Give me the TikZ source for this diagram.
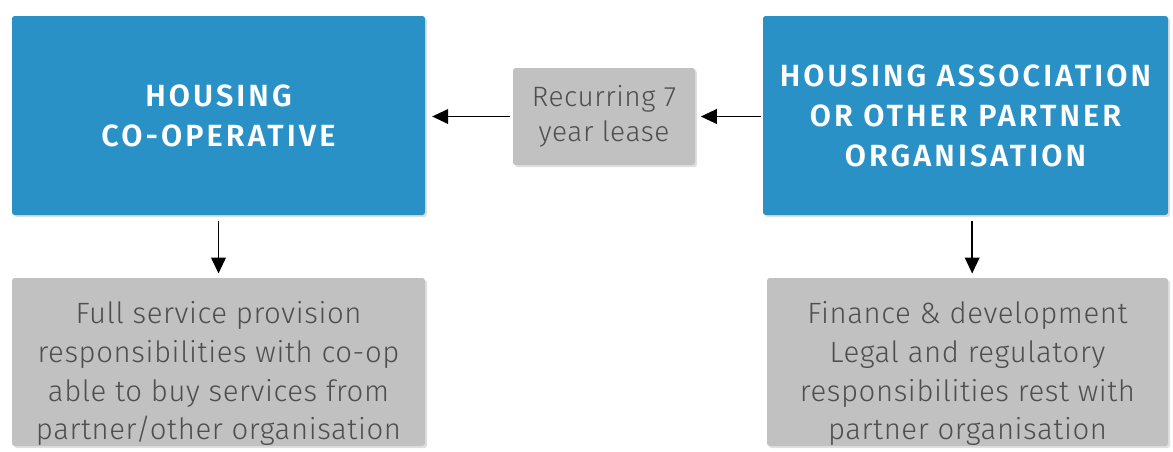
\documentclass[tikz,border=0pt]{standalone}
\usepackage{fontspec}
\setmainfont{Fira Sans}[UprightFont=* Light,LetterSpace=2]
\newfontfamily\headfont{Fira Sans}[UprightFont=* SemiBold,LetterSpace=10]
\usetikzlibrary{arrows.meta,shadows}

\definecolor{coopblue}{HTML}{2A91C6}
\definecolor{boxgrey}{HTML}{C1C1C1}
\definecolor{textgrey}{HTML}{4E4E4E}

\tikzset{every picture/.style={line width=0.75pt}}
\tikzset{
	bluebox/.style={fill=coopblue,rounded corners=2pt,align=center,text=white,inner sep=0.75pt,
		font=\headfont\fontsize{23}{30}\selectfont,
		drop shadow={opacity=0.25,shadow xshift=1.5pt,shadow yshift=-1.5pt}},
	greybox/.style={fill=boxgrey,rounded corners=2pt,align=center,text=textgrey,inner sep=0pt,
		font=\fontsize{22}{29}\selectfont,
		drop shadow={opacity=0.25,shadow xshift=1.5pt,shadow yshift=-1.5pt}},
	arr/.style={draw=black,line width=1.3pt,-{Triangle[length=12pt,width=11pt]}}
}

\begin{document}
\begin{tikzpicture}[x=0.75pt,y=0.75pt,yscale=-1,xscale=1]
	\useasboundingbox (0,0) rectangle (1173,451);
	
	%Shape: Rectangle [coop]
	\node [bluebox,minimum width=309.75pt,minimum height=149.25pt] (coop) at (218.5,115.5) {HOUSING\\CO-OPERATIVE};
	%Shape: Rectangle [assoc]
	\node [bluebox,minimum width=303.75pt,minimum height=149.25pt] (assoc) at (965.5,115.5) {HOUSING ASSOCIATION\\OR OTHER PARTNER\\ORGANISATION};
	%Shape: Rectangle [lease]
	\node [greybox,minimum width=136.5pt,minimum height=72.75pt,font=\fontsize{21}{26}\selectfont] (lease) at (604,116.5) {Recurring 7\\year lease};
	%Shape: Rectangle [coopduty]
	\node [greybox,minimum width=309.75pt,minimum height=126pt] (coopduty) at (218.5,362) {\rule{0pt}{34pt}Full service provision\\responsibilities with co-op\\able to buy services from\\partner/other organisation};
	%Shape: Rectangle [assocduty]
	\node [greybox,minimum width=300.75pt,minimum height=126pt] (assocduty) at (967.5,362) {\rule{0pt}{34pt}Finance \& development\\Legal and regulatory\\responsibilities rest with\\partner organisation};
	
	%Straight Lines
	\draw [arr,shorten <=1pt,shorten >=4pt] (assoc.west |- lease.east) -- (lease.east);
	\draw [arr,shorten <=2pt,shorten >=5pt] (lease.west) -- (lease.west -| coop.east);
	\draw [arr,shorten <=4pt,shorten >=3pt] (coop.south) -- (coopduty.north);
	\draw [arr,shorten <=4pt,shorten >=3pt] ([xshift=5pt]assoc.south) -- ([xshift=5pt]assoc.south |- assocduty.north);
	
\end{tikzpicture}
\end{document}
